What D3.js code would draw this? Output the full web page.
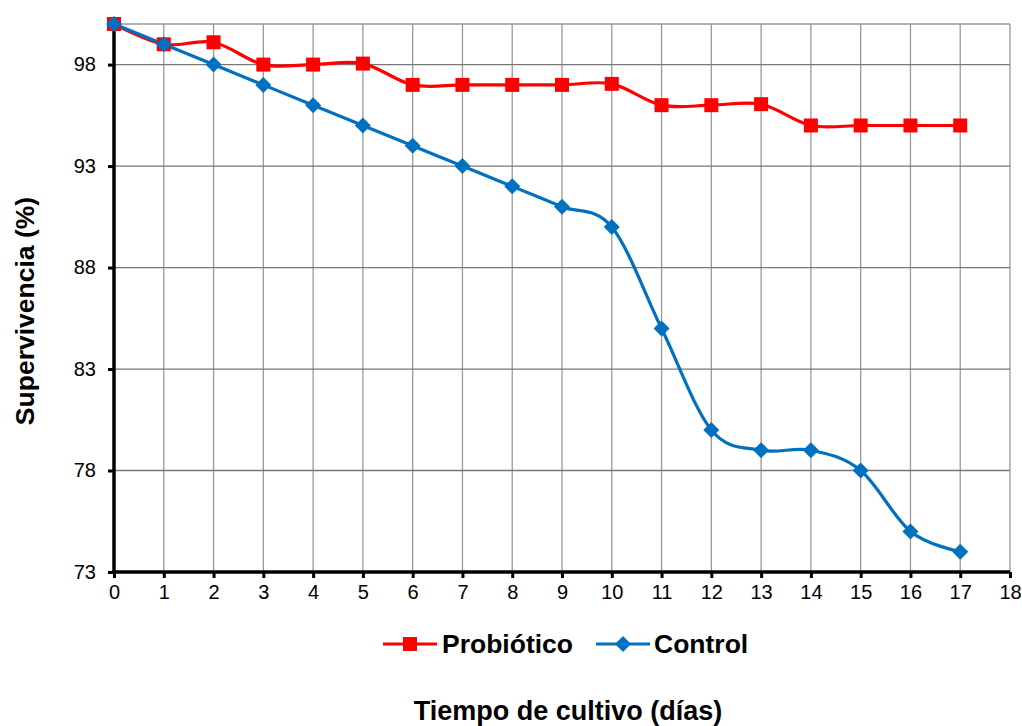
<!DOCTYPE html>
<html>
<head>
<meta charset="utf-8">
<script src="https://cdn.jsdelivr.net/npm/d3@7"></script>
<style>
  body { margin: 0; background: #fff; }
  svg { font-family: "Liberation Sans", Arial, sans-serif; }
</style>
</head>
<body>
<svg id="chart" width="1022" height="726"></svg>
<script>
// Days of culture
const days = [0, 1, 2, 3, 4, 5, 6, 7, 8, 9, 10, 11, 12, 13, 14, 15, 16, 17];
// Survival (%) per series
const probiotico = [100, 99, 99.1, 98, 98, 98.05, 97, 97, 97, 97, 97.05, 96, 96, 96.05, 95, 95, 95, 95];
const control = [100, 99, 98, 97, 96, 95, 94, 93, 92, 91, 90, 85, 80, 79, 79, 78, 75, 74];
const yTicks = [73, 78, 83, 88, 93, 98];
const xTicks = d3.range(0, 19);

const svg = d3.select('#chart');
const plotLeft = 114, plotRight = 1010, plotTop = 24, plotBottom = 572;

const x = d3.scaleLinear().domain([0, 18]).range([plotLeft, plotRight]);
const y = d3.scaleLinear().domain([73, 100]).range([plotBottom, plotTop]);

// Gridlines
svg.append('g').selectAll('line')
  .data(xTicks.slice(1))
  .enter().append('line')
  .attr('x1', d => x(d)).attr('x2', d => x(d))
  .attr('y1', plotTop).attr('y2', plotBottom)
  .attr('stroke', '#999').attr('stroke-width', 1.3);

svg.append('g').selectAll('line')
  .data(yTicks.slice(1).concat([100]))
  .enter().append('line')
  .attr('x1', plotLeft).attr('x2', plotRight)
  .attr('y1', d => y(d)).attr('y2', d => y(d))
  .attr('stroke', d => d === 100 ? '#999' : '#777').attr('stroke-width', 1.3);

// Axes
const xAxis = svg.append('g')
  .attr('transform', `translate(0,${plotBottom})`)
  .call(d3.axisBottom(x).tickValues(xTicks).tickSize(6).tickPadding(7).tickFormat(d3.format('d')));
const yAxis = svg.append('g')
  .attr('transform', `translate(${plotLeft},0)`)
  .call(d3.axisLeft(y).tickValues(yTicks).tickSize(6).tickPadding(12).tickFormat(d3.format('d')));

[xAxis, yAxis].forEach(a => {
  a.attr('font-size', 20);
  a.select('.domain').attr('stroke', '#000').attr('stroke-width', 3.5);
  a.selectAll('.tick line').attr('stroke', '#000').attr('stroke-width', 3);
  a.selectAll('.tick text').attr('fill', '#000').style('font-size', '20px')
    .style('font-family', '"Liberation Sans", Arial, sans-serif');
});
xAxis.select('.domain').attr('d', `M${plotLeft},0H${plotRight}`);
yAxis.select('.domain').attr('d', `M0,${plotTop}V${plotBottom}`);

// Lines
const line = d3.line()
  .x((d, i) => x(days[i]))
  .y(d => y(d))
  .curve(d3.curveCardinal.tension(0));

const series = [
  { name: 'Probiótico', values: probiotico, color: '#ff0000', marker: 'square' },
  { name: 'Control', values: control, color: '#0070c0', marker: 'diamond' }
];

series.forEach(s => {
  svg.append('path')
    .datum(s.values)
    .attr('d', line)
    .attr('fill', 'none')
    .attr('stroke', s.color)
    .attr('stroke-width', 3.2);
});

function drawMarker(g, type, cx, cy, color) {
  if (type === 'square') {
    g.append('rect').attr('x', cx - 7).attr('y', cy - 7)
      .attr('width', 14).attr('height', 14).attr('fill', color);
  } else {
    g.append('path')
      .attr('d', `M${cx},${cy - 8}L${cx + 8},${cy}L${cx},${cy + 8}L${cx - 8},${cy}Z`)
      .attr('fill', color);
  }
}

series.forEach(s => {
  const g = svg.append('g');
  s.values.forEach((v, i) => drawMarker(g, s.marker, x(days[i]), y(v), s.color));
});

// Legend
const legendItems = [
  { s: series[0], x1: 383, x2: 437, tx: 442 },
  { s: series[1], x1: 596, x2: 650, tx: 654 }
];
legendItems.forEach(it => {
  const ly = 644;
  svg.append('line').attr('x1', it.x1).attr('x2', it.x2).attr('y1', ly).attr('y2', ly)
    .attr('stroke', it.s.color).attr('stroke-width', 3.2);
  drawMarker(svg, it.s.marker, (it.x1 + it.x2) / 2, ly, it.s.color);
  svg.append('text').attr('x', it.tx).attr('y', ly + 9)
    .style('font-size', '26.5px').style('font-weight', 'bold')
    .text(it.s.name);
});

// Axis titles
svg.append('text')
  .attr('x', 568).attr('y', 720)
  .attr('text-anchor', 'middle')
  .style('font-size', '27px').style('font-weight', 'bold')
  .text('Tiempo de cultivo (días)');

svg.append('text')
  .attr('transform', 'translate(34,311) rotate(-90)')
  .attr('text-anchor', 'middle')
  .style('font-size', '26.5px').style('font-weight', 'bold')
  .text('Supervivencia (%)');
</script>
</body>
</html>
